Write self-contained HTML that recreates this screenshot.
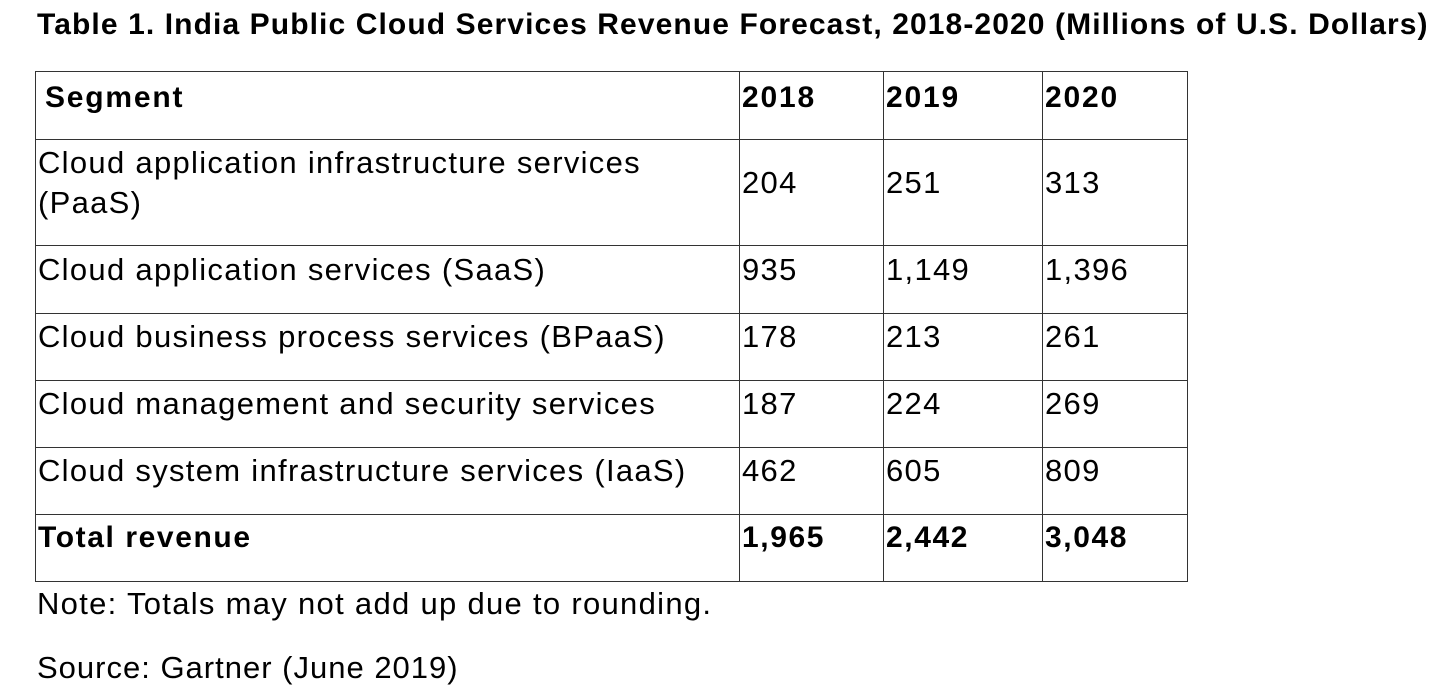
<!DOCTYPE html>
<html><head><meta charset="utf-8">
<style>
html,body{margin:0;padding:0;background:#fff;width:1445px;height:693px;overflow:hidden;font-family:"Liberation Sans",Arial,sans-serif;color:#000;}
.title{position:absolute;left:37px;top:8px;font-weight:bold;font-size:30px;white-space:nowrap;letter-spacing:1.1px;}
table{position:absolute;left:35px;top:71px;border-collapse:collapse;table-layout:fixed;}
td{border:1px solid #333;padding:0 0 20px 2px;font-size:31px;vertical-align:middle;line-height:40px;letter-spacing:1.3px;white-space:nowrap;overflow:hidden;}
tr.h td{vertical-align:top;padding:6px 0 0 2px;font-weight:bold;font-size:30px;letter-spacing:1.8px;}
tr.t td{font-weight:bold;font-size:30px;letter-spacing:1.6px;}
.note{position:absolute;left:37px;font-size:31px;white-space:nowrap;letter-spacing:1.3px;}
</style></head><body>
<div class="title">Table 1. India Public Cloud Services Revenue Forecast, 2018-2020 (Millions of U.S. Dollars)</div>
<table>
<colgroup><col style="width:704px"><col style="width:144px"><col style="width:159px"><col style="width:145px"></colgroup>
<tr class="h" style="height:68px"><td style="padding-left:9px">Segment</td><td>2018</td><td>2019</td><td>2020</td></tr>
<tr style="height:106px"><td>Cloud application infrastructure services<br>(PaaS)</td><td>204</td><td>251</td><td>313</td></tr>
<tr style="height:68px"><td>Cloud application services (SaaS)</td><td>935</td><td>1,149</td><td>1,396</td></tr>
<tr style="height:67px"><td>Cloud business process services (BPaaS)</td><td>178</td><td>213</td><td>261</td></tr>
<tr style="height:67px"><td>Cloud management and security services</td><td>187</td><td>224</td><td>269</td></tr>
<tr style="height:67px"><td>Cloud system infrastructure services (IaaS)</td><td>462</td><td>605</td><td>809</td></tr>
<tr class="t" style="height:67px"><td>Total revenue</td><td>1,965</td><td>2,442</td><td>3,048</td></tr>
</table>
<div class="note" style="top:586px">Note: Totals may not add up due to rounding.</div>
<div class="note" style="top:650px;letter-spacing:1.0px">Source: Gartner (June 2019)</div>
</body></html>
